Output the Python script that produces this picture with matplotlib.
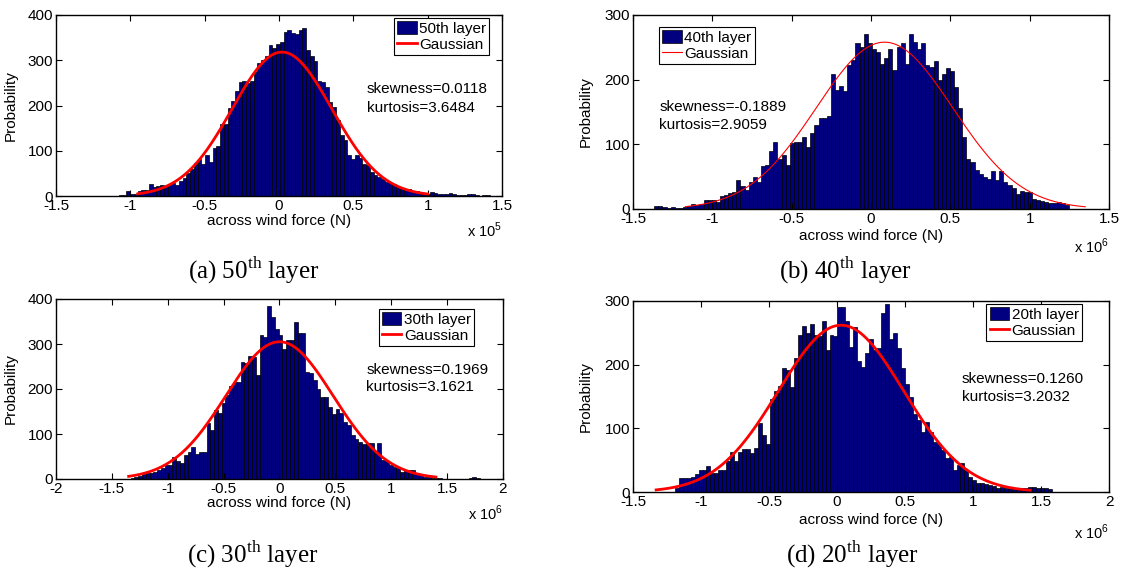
import numpy as np
import matplotlib.pyplot as plt
from matplotlib.patches import Patch
from matplotlib.lines import Line2D
from matplotlib.ticker import FuncFormatter, MultipleLocator

plt.rcParams['font.family'] = 'Liberation Sans'
plt.rcParams['mathtext.fontset'] = 'custom'
plt.rcParams['mathtext.rm'] = 'Liberation Serif'
plt.rcParams['mathtext.sf'] = 'Liberation Sans'

# histogram counts, left to right
counts_a = [1, 2, 2, 11, 4, 5, 12, 14, 14, 27, 20, 22, 25, 22, 25, 28, 25, 33, 40, 50,
            60, 72, 82, 70, 90, 75, 105, 110, 160, 160, 195, 210, 232, 252, 255, 250, 255, 275, 295, 300,
            310, 333, 328, 335, 340, 362, 366, 360, 358, 367, 372, 322, 310, 298, 255, 252, 240, 208, 197, 167,
            134, 123, 90, 82, 90, 85, 71, 68, 53, 46, 42, 38, 31, 29, 26, 20, 18, 16, 15, 12,
            11, 9, 7, 5, 9, 7, 5, 4, 5, 7, 4, 3, 2, 3, 4, 4, 2, 1, 2, 2]
counts_b = [5, 4, 3, 2, 3, 2, 2, 3, 4, 8, 6, 8, 14, 14, 14, 11, 20, 22, 25, 27,
            45, 35, 29, 42, 50, 42, 66, 68, 90, 103, 78, 84, 68, 102, 104, 103, 111, 96, 117, 130,
            140, 140, 144, 209, 184, 190, 182, 223, 231, 257, 251, 271, 257, 247, 243, 225, 233, 248, 215, 251,
            256, 225, 271, 259, 247, 257, 223, 220, 229, 200, 209, 218, 214, 188, 156, 112, 78, 73, 60, 54,
            50, 47, 59, 45, 59, 42, 37, 32, 23, 28, 27, 27, 16, 14, 13, 11, 10, 9, 11, 9, 6]
counts_c = [1, 2, 5, 7, 11, 13, 13, 16, 20, 24, 31, 31, 50, 41, 35, 53, 61, 72, 56, 61,
            61, 125, 109, 153, 146, 170, 187, 207, 216, 216, 261, 257, 273, 272, 231, 320, 315, 385, 361, 333,
            319, 290, 310, 309, 350, 325, 325, 238, 236, 220, 201, 183, 183, 161, 144, 155, 146, 127, 120, 98,
            90, 83, 78, 81, 81, 61, 81, 42, 39, 31, 27, 24, 16, 20, 20, 20, 11, 9, 5, 4,
            3, 2, 2, 1, 1, 1, 1, 1, 1, 1, 2, 4, 2]
counts_d = [7, 22, 22, 22, 24, 28, 35, 34, 41, 30, 30, 34, 35, 49, 63, 49, 63, 67, 67, 62,
            69, 108, 90, 76, 146, 159, 166, 194, 191, 165, 210, 247, 260, 249, 264, 247, 245, 269, 223, 247,
            245, 291, 291, 269, 228, 259, 205, 197, 218, 241, 223, 226, 281, 296, 240, 249, 226, 194, 170, 149,
            123, 113, 95, 110, 95, 79, 76, 66, 53, 55, 35, 42, 45, 35, 24, 19, 14, 14, 13, 11,
            9, 7, 8, 7, 7, 6, 7, 7, 6, 8, 8, 6, 7, 6, 5]

# data span of each histogram (axis units, before the x10^n factor)
span_a = (-1.103, 1.419)
span_b = (-1.366, 1.248)
span_c = (-1.367, 1.794)
span_d = (-1.193, 1.579)

# fitted Gaussian: mean, std, peak height, drawn range
gauss_a = (0.02, 0.335, 318, -0.95, 1.0)
gauss_b = (0.085, 0.43, 258, -1.17, 1.35)
gauss_c = (0.0, 0.48, 305, -1.35, 1.4)
gauss_d = (0.03, 0.46, 262, -1.33, 1.42)

layers = ["50th layer", "40th layer", "30th layer", "20th layer"]
skewness = ["0.0118", "-0.1889", "0.1969", "0.1260"]
kurtosis = ["3.6484", "2.9059", "3.1621", "3.2032"]
captions = [r"(a) 50$^{\mathrm{th}}$ layer", r"(b) 40$^{\mathrm{th}}$ layer",
            r"(c) 30$^{\mathrm{th}}$ layer", r"(d) 20$^{\mathrm{th}}$ layer"]
exponents = ["5", "6", "6", "6"]
xlims = [(-1.5, 1.5), (-1.5, 1.5), (-2, 2), (-1.5, 2)]
ylims = [400, 300, 400, 300]

W, H = 1127, 569
fig = plt.figure(figsize=(W / 100, H / 100), dpi=100)

# pixel boxes of the axes: left, top, right, bottom
boxes = [(56, 15, 502, 196), (633, 15, 1109, 209), (56, 299, 503, 479), (633, 301, 1109, 492)]
legend_anchor = [('upper right', (0.971, 0.985)), ('upper left', (0.055, 0.94)),
                 ('upper right', (0.935, 0.946)), ('upper right', (0.943, 0.986))]
stat_pos = [(0.697, 0.59, 0.486), (0.055, 0.526, 0.433), (0.694, 0.606, 0.511), (0.691, 0.592, 0.497)]
xlabel_y = [-0.1, -0.103, -0.095, -0.11]
offset_y = [-0.19, -0.19, -0.19, -0.21]
caption_xy = [(254, 271), (845, 271), (253, 555), (852, 555)]
line_w = [2.0, 0.8, 2.0, 2.0]

all_counts = [counts_a, counts_b, counts_c, counts_d]
all_spans = [span_a, span_b, span_c, span_d]
all_gauss = [gauss_a, gauss_b, gauss_c, gauss_d]

navy = '#000080'
fmt = FuncFormatter(lambda v, p: '%g' % v)

for i in range(4):
    l, t, r, b = boxes[i]
    ax = fig.add_axes([l / W, 1 - b / H, (r - l) / W, (b - t) / H])
    cnt = np.array(all_counts[i])
    lo, hi = all_spans[i]
    edges = np.linspace(lo, hi, len(cnt) + 1)
    ax.bar(edges[:-1], cnt, width=np.diff(edges), align='edge', color=navy,
           edgecolor='black', linewidth=0.5)
    mu, sd, pk, g0, g1 = all_gauss[i]
    gx = np.linspace(g0, g1, 300)
    ax.plot(gx, pk * np.exp(-0.5 * ((gx - mu) / sd) ** 2), color='red', lw=line_w[i])

    ax.set_xlim(*xlims[i])
    ax.set_ylim(0, ylims[i])
    ax.xaxis.set_major_locator(MultipleLocator(0.5))
    ax.yaxis.set_major_locator(MultipleLocator(100))
    ax.xaxis.set_major_formatter(fmt)
    ax.tick_params(direction='in', top=True, right=True, labelsize=11, length=4, width=0.8, pad=2)
    for s in ax.spines.values():
        s.set_linewidth(1.0)

    ax.set_ylabel("Probability", fontsize=11)
    ax.yaxis.set_label_coords(-0.085, 0.5)
    ax.set_xlabel("across wind force (N)", fontsize=11)
    ax.xaxis.set_label_coords(0.5, xlabel_y[i])
    ax.text(1.0, offset_y[i], r"x 10$^{\mathsf{%s}}$" % exponents[i], transform=ax.transAxes,
            ha='right', va='center', fontsize=10.5)

    handles = [Patch(facecolor=navy, edgecolor='black', linewidth=0.5),
               Line2D([], [], color='red', lw=line_w[i])]
    loc, anchor = legend_anchor[i]
    leg = ax.legend(handles, [layers[i], "Gaussian"], loc=loc, bbox_to_anchor=anchor,
                    borderaxespad=0, fontsize=11, fancybox=False, framealpha=1,
                    handlelength=1.3, handleheight=1.0, handletextpad=0.15,
                    borderpad=0.2, labelspacing=0.1)
    leg.get_frame().set_edgecolor('black')
    leg.get_frame().set_linewidth(0.8)

    sx, sy1, sy2 = stat_pos[i]
    ax.text(sx, sy1, "skewness=" + skewness[i], transform=ax.transAxes, va='center', fontsize=11)
    ax.text(sx, sy2, "kurtosis=" + kurtosis[i], transform=ax.transAxes, va='center', fontsize=11)

    cx, cy = caption_xy[i]
    fig.text(cx / W, 1 - cy / H, captions[i], ha='center', va='center',
             family='Liberation Serif', fontsize=18)

fig.savefig("out.png", dpi=100)
